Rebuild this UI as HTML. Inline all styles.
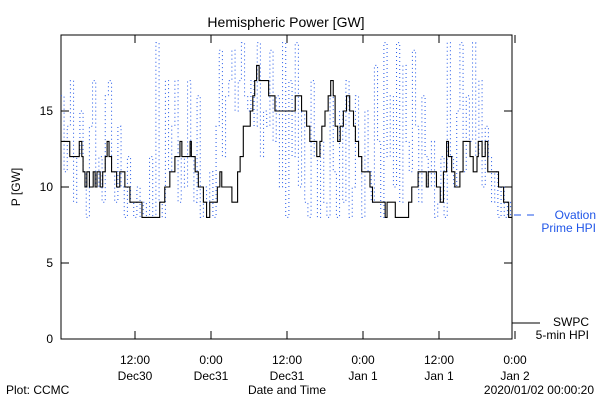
<!DOCTYPE html>
<html><head><meta charset="utf-8"><style>
body{margin:0;background:#fff;}
svg text{font-family:"Liberation Sans",sans-serif;font-size:12px;}
</style></head><body>
<svg id="chart" width="600" height="400" viewBox="0 0 600 400" xmlns="http://www.w3.org/2000/svg">
<rect width="600" height="400" fill="#fff"/>
<text x="286" y="27" text-anchor="middle" font-size="14" style="font-size:14px">Hemispheric Power [GW]</text>
<text x="0" y="0" transform="translate(20,187) rotate(-90)" text-anchor="middle">P [GW]</text>
<text x="287" y="394" text-anchor="middle">Date and Time</text>
<text x="6" y="394">Plot: CCMC</text>
<text x="594" y="394" text-anchor="end">2020/01/02 00:00:20</text>
<g id="axes"></g>
<g id="series"></g>
<g>
<line x1="514" y1="215" x2="540" y2="215" stroke="#1f55e8" stroke-dasharray="7 6"/>
<text x="596" y="219" text-anchor="end" fill="#1f55e8">Ovation</text>
<text x="596" y="232" text-anchor="end" fill="#1f55e8">Prime HPI</text>
</g>
<g>
<line x1="512" y1="323" x2="540" y2="323" stroke="#000"/>
<text x="589" y="326" text-anchor="end">SWPC</text>
<text x="589" y="339" text-anchor="end">5-min HPI</text>
</g>
</svg>
<script>
const yTicks=[0,5,10,15];
const xTickHours=[12,24,36,48,60,72];
const xTickLine1=["12:00","0:00","12:00","0:00","12:00","0:00"];
const xTickLine2=["Dec30","Dec31","Dec31","Jan 1","Jan 1","Jan 2"];
const swpcTimes=[0.3,1.7,3.2,3.6,3.8,4.1,4.4,4.8,5.4,5.7,6.0,6.5,6.9,7.3,7.6,7.9,8.3,9.1,9.6,10.4,11.2,13.1,15.9,16.7,17.5,18.3,19.1,19.4,20.7,20.9,21.5,22.0,22.8,23.3,23.8,25.0,25.4,25.7,27.3,28.2,28.6,29.1,30.2,30.6,30.9,31.2,31.6,33.1,34.1,37.3,38.3,39.1,39.6,40.7,41.2,41.5,42.0,42.5,42.9,43.3,43.6,44.0,44.4,44.9,45.4,45.9,46.5,46.8,47.3,47.8,49.1,49.5,51.5,51.8,53.1,55.2,55.7,56.7,58.0,58.3,59.6,60.2,60.7,61.2,61.5,62.0,62.5,63.3,63.8,64.9,65.4,66.0,66.2,66.8,67.3,67.7,69.4,70.2,71.0,71.7];
const swpcValues=[13,12,13,12,11,10,11,10,11,10,11,10,11,12,13,12,11,10,11,10,9,8,9,10,11,12,13,12,13,12,11,10,9,8,9,10,11,10,9,11,12,14,15,16,17,18,17,16,15,16,15,14,13,12,13,14,15,16,17,16,14,13,14,15,16,15,14,13,12,11,10,9,8,9,8,9,10,11,10,11,10,9,11,13,12,11,10,11,13,12,11,12,13,12,13,11,10,9,8,8];
const ovationStart=0.3, ovationStep=0.5;
const ovationValues=[16,11,14,17,9,12,15,11,8,14,17,10,12,9,16,17,11,9,14,10,8,12,9,8,10,8,9,8,12,8,19.5,9,8,17,11,14,17,9,12,10,17,12,9,16,8,10,9,11,8,14,19,12,16,17,19,15,17,19.5,16,15,17,14,19.5,12,15,14,19,13,16,10,19.5,8,17,12,19.5,10,15,9,8,17,12,8,13,9,8,16,11,8,15,9,17,8,10,16,12,8,15,11,9,18,13,8,19.5,12,16,10,19.5,9,18,13,11,19,14,9,16,12,10,13,8,9,12,8,19.5,12,10,15,19.5,11,16,13,19.5,12,17,10,14,12,9,11,8,10,8,9,8,8];
const X0=61,X1=512,Y0=339,Y1=35;
const x=t=>59+t*76/12;
const y=v=>Y0-v*15.2;
const NS="http://www.w3.org/2000/svg";
function mk(tag,attrs,parent){const e=document.createElementNS(NS,tag);for(const k in attrs)e.setAttribute(k,attrs[k]);parent.appendChild(e);return e;}
const axes=document.getElementById('axes');
const frame=mk('rect',{x:X0,y:Y1,width:X1-X0,height:Y0-Y1,fill:'none',stroke:'#000'},axes);


yTicks.forEach(v=>{
  const l=mk('line',{x1:X0,x2:X0+8,y1:y(v),y2:y(v),stroke:'#000'},axes);
  
  
  const r=mk('line',{x1:X1,x2:X1-8,y1:y(v),y2:y(v),stroke:'#000'},axes);
  
  
  const t=mk('text',{x:X0-8,y:y(v)+4,'text-anchor':'end'},axes);t.textContent=v;
  
  
});
xTickHours.forEach((h,i)=>{
  const xx=x(h);
  const b=mk('line',{x1:xx,x2:xx,y1:Y0,y2:Y0-8,stroke:'#000'},axes);
  
  
  const tp=mk('line',{x1:xx,x2:xx,y1:Y1,y2:Y1+8,stroke:'#000'},axes);
  
  
  const t1=mk('text',{x:xx,y:364,'text-anchor':'middle'},axes);t1.textContent=xTickLine1[i];
  
  
  const t2=mk('text',{x:xx,y:380,'text-anchor':'middle'},axes);t2.textContent=xTickLine2[i];
  
  
});
const series=document.getElementById('series');
let d='';
ovationValues.forEach((v,i)=>{const t=ovationStart+i*ovationStep;const xx=Math.min(x(t),X1);d+=(i?'L'+xx+' '+y(ovationValues[i-1])+'L':'M')+xx+' '+y(v);});
d+='L'+X1+' '+y(ovationValues[ovationValues.length-1]);
const op=mk('path',{d:d,fill:'none',stroke:'#1f55e8','stroke-width':1,'stroke-dasharray':'1 3'},series);


let d2='';
swpcValues.forEach((v,i)=>{const xx=Math.min(x(swpcTimes[i]),X1);d2+=(i?'L'+xx+' '+y(swpcValues[i-1])+'L':'M')+Math.max(xx,X0)+' '+y(v);});
const sp=mk('path',{d:d2,fill:'none',stroke:'#000','stroke-width':1.1},series);


</script>
</body></html>
